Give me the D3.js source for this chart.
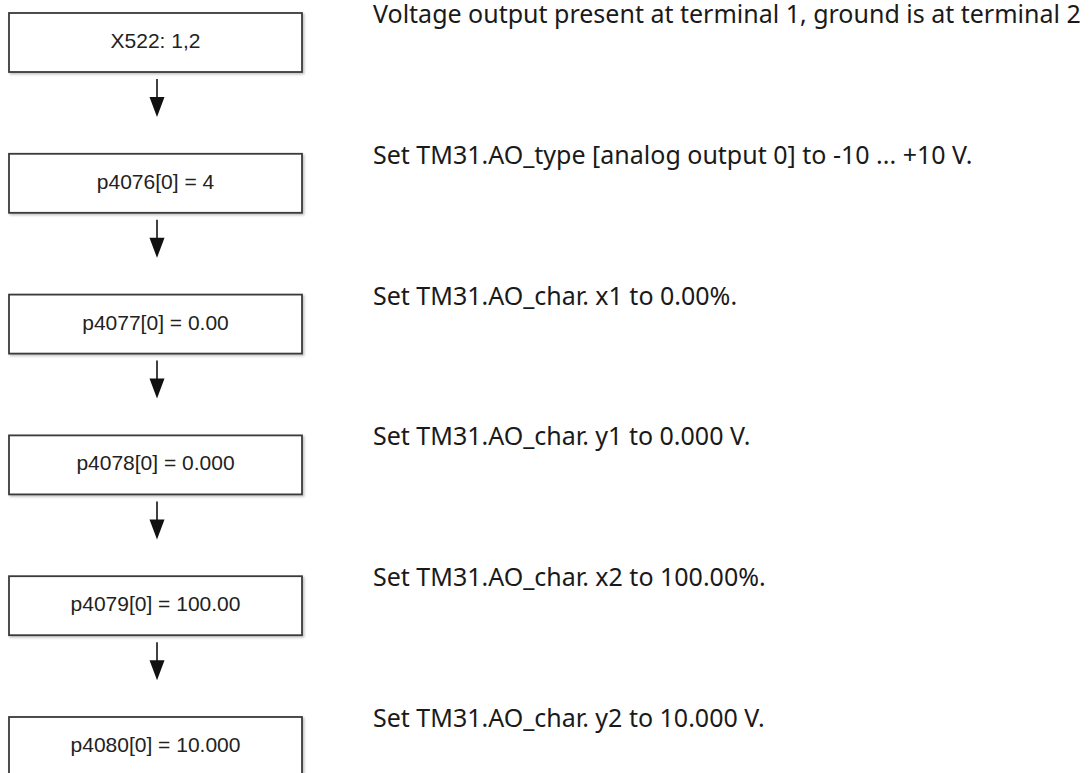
<!DOCTYPE html>
<html>
<head>
<meta charset="utf-8">
<script src="https://cdn.jsdelivr.net/npm/d3@7"></script>
<style>
  html, body { margin: 0; padding: 0; background: #fff; }
  svg { display: block; }
</style>
</head>
<body>
<svg id="chart" width="1090" height="773"></svg>
<script>
// ---- data ----
const stepLabels = [
  "X522: 1,2",
  "p4076[0] = 4",
  "p4077[0] = 0.00",
  "p4078[0] = 0.000",
  "p4079[0] = 100.00",
  "p4080[0] = 10.000"
];
const stepDescriptions = [
  "Voltage output present at terminal 1, ground is at terminal 2",
  "Set TM31.AO_type [analog output 0] to -10 ... +10 V.",
  "Set TM31.AO_char. x1 to 0.00%.",
  "Set TM31.AO_char. y1 to 0.000 V.",
  "Set TM31.AO_char. x2 to 100.00%.",
  "Set TM31.AO_char. y2 to 10.000 V."
];

// ---- layout ----
const svg = d3.select("#chart");
const boxX = 9, boxW = 293, boxH = 59;
const textX = 373;
const y = d3.scaleLinear().domain([0, stepLabels.length - 1]).range([13, 717]);
const idx = d3.range(stepLabels.length);

const defs = svg.append("defs");
const f = defs.append("filter").attr("id", "sh").attr("x", "-5%").attr("y", "-10%").attr("width", "115%").attr("height", "130%");
f.append("feDropShadow").attr("dx", 1.5).attr("dy", 1.5).attr("stdDeviation", 0.8).attr("flood-color", "#000").attr("flood-opacity", 0.25);

// boxes
const g = svg.append("g");
g.selectAll("rect.box").data(idx).join("rect")
  .attr("class", "box")
  .attr("x", boxX).attr("y", d => y(d))
  .attr("width", boxW).attr("height", boxH)
  .attr("fill", "#fff").attr("stroke", "#3a3a3a").attr("stroke-width", 1.8)
  .attr("filter", "url(#sh)");

g.selectAll("text.lbl").data(idx).join("text")
  .attr("class", "lbl")
  .attr("x", boxX + boxW / 2).attr("y", d => y(d) + 35)
  .attr("text-anchor", "middle")
  .attr("font-family", "'Liberation Sans', Arial, sans-serif")
  .attr("font-size", 21)
  .attr("fill", "#222")
  .text(d => stepLabels[d]);

// arrows between boxes
const ax = 157;
const arrows = svg.append("g").selectAll("g").data(idx.slice(0, -1)).join("g");
arrows.append("line")
  .attr("x1", ax).attr("x2", ax)
  .attr("y1", d => y(d) + boxH + 7)
  .attr("y2", d => y(d) + boxH + 28)
  .attr("stroke", "#111").attr("stroke-width", 1.6);
arrows.append("path")
  .attr("d", d => {
    const b = y(d) + boxH + 25, t = y(d) + boxH + 45;
    return `M${ax - 7.5},${b} L${ax + 7.5},${b} L${ax},${t} Z`;
  })
  .attr("fill", "#111");

// descriptions
svg.append("g").selectAll("text").data(idx).join("text")
  .attr("x", textX).attr("y", d => y(d) + 10)
  .attr("font-family", "'Noto Sans', 'Open Sans', sans-serif")
  .attr("font-size", 25)
  .attr("fill", "#1a1a1a")
  .text(d => stepDescriptions[d]);
</script>
</body>
</html>
